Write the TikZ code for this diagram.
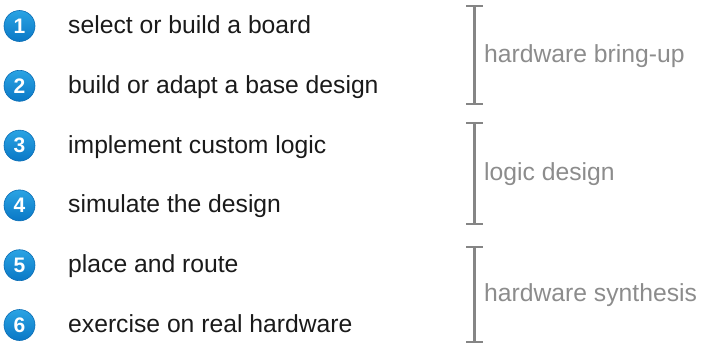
\documentclass[tikz,border=0pt]{standalone}
\usepackage{fontspec}
\setmainfont{Liberation Sans}
\definecolor{txt}{HTML}{1A1A1A}
\definecolor{lbl}{HTML}{8C8C8C}
\definecolor{brk}{HTML}{858585}
\definecolor{ctop}{HTML}{2AA3E3}
\definecolor{cbot}{HTML}{0A78C6}
\definecolor{crim}{HTML}{0A6DB5}
\begin{document}
\begin{tikzpicture}[x=1pt,y=-1pt,
  numc/.style={circle, minimum size=31pt, inner sep=0pt, top color=ctop, bottom color=cbot, draw=crim, line width=0.6pt, text=white, font=\fontsize{21}{21}\selectfont\bfseries},
  steptext/.style={anchor=base west, text=txt, font=\fontsize{24.7}{25}\selectfont, inner sep=0pt},
  grp/.style={anchor=base west, text=lbl, font=\fontsize{24.7}{25}\selectfont, inner sep=0pt},
  brack/.style={draw=brk, line width=2.5pt}]
\useasboundingbox (0,0) rectangle (702,343);
\foreach \i/\t [evaluate=\i as \yy using 26+59.8*(\i-1)] in {1/select or build a board,2/build or adapt a base design,3/implement custom logic,4/simulate the design,5/place and route,6/exercise on real hardware}{
  \node[numc] (n\i) at (19.5,\yy) {\i};
  \node[steptext] (t\i) at (68,\yy+7.5) {\t};
}
\foreach \k/\a/\b/\l in {1/6/104/hardware bring-up,2/123/224/logic design,3/247/342/hardware synthesis}{
  \coordinate (bt\k) at (474.5,\a);
  \coordinate (bb\k) at (474.5,\b);
  \draw[brack] ([xshift=-8.5pt]bt\k) -- ([xshift=8.5pt]bt\k) (bt\k) -- (bb\k) ([xshift=-8.5pt]bb\k) -- ([xshift=8.5pt]bb\k);
  \node[grp] (g\k) at (484,{(\a+\b)/2+7}) {\l};
}
\end{tikzpicture}
\end{document}
